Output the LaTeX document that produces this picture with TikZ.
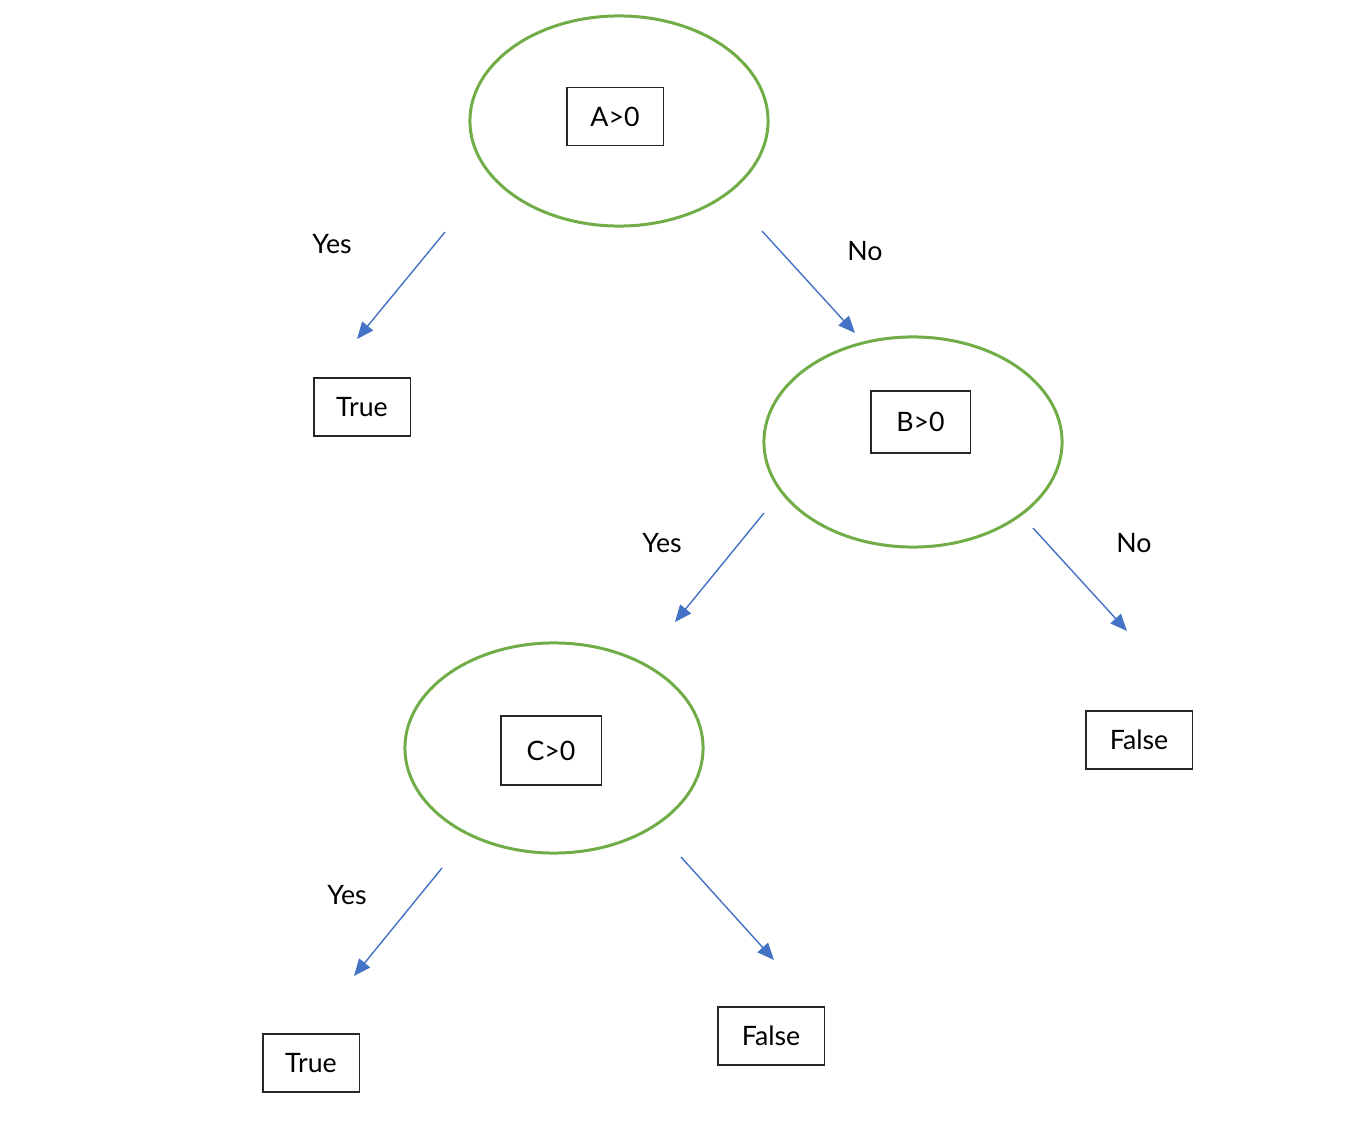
\documentclass[tikz,border=0pt]{standalone}
\usepackage{fontspec}
\setmainfont{Lato}
\usetikzlibrary{arrows.meta}
\usetikzlibrary{positioning}
\usetikzlibrary{shapes.geometric}
\definecolor{splitgreen}{RGB}{112,173,71}
\definecolor{edgeblue}{RGB}{68,114,196}
\tikzset{split/.style = {draw = splitgreen, line width = 0.85pt, ellipse, inner sep = 0,
                         minimum width = 2.98cm, minimum height = 2.10cm}}
\tikzset{cond/.style = {draw = black!85, line width = 0.3pt, inner sep = 0,
                        minimum width = 0.96cm, minimum height = 0.58cm}}
\tikzset{branch/.style = {draw = edgeblue, line width = 0.4pt,
                          -{Triangle[length = 4.8pt, width = 4pt]}}}
\tikzset{answer/.style = {inner sep = 0}}

\begin{document}
\begin{tikzpicture}[x = 0.01cm, y = -0.01cm, font = \fontsize{7.6}{9}\selectfont]
    \useasboundingbox (0, 0) rectangle (1354, 1140);

    % splits
    \node (splitA) at (619, 121) [split] {};
    \node (splitB) at (913, 442) [split] {};
    \node (splitC) at (554, 748) [split] {};

    \node (testA) at (615, 116.5) [cond] {A>0};
    \node (testB) at (920.5, 422) [cond, minimum width = 0.99cm, minimum height = 0.62cm] {B>0};
    \node (testC) at (551, 750.5) [cond, minimum width = 1.00cm, minimum height = 0.69cm] {C>0};

    % leaves
    \node (trueA) at (362, 407) [cond] {True};
    \node (falseB) at (1139, 740) [cond, minimum width = 1.06cm] {False};
    \node (trueC) at (311, 1063) [cond] {True};
    \node (falseC) at (771, 1036) [cond, minimum width = 1.06cm] {False};

    % branch ends
    \coordinate (yesA) at (445, 232);
    \coordinate (yesAend) at (357, 339);
    \coordinate (noA) at (762, 231);
    \coordinate (noAend) at (855, 333);
    \coordinate (yesB) at (764, 513);
    \coordinate (yesBend) at (675, 622);
    \coordinate (noB) at (1033, 528);
    \coordinate (noBend) at (1127, 631);
    \coordinate (yesC) at (442, 868);
    \coordinate (yesCend) at (354, 976);
    \coordinate (noC) at (681, 857);
    \coordinate (noCend) at (774, 960);

    \draw [branch] (yesA) -- (yesAend);
    \draw [branch] (noA) -- (noAend);
    \draw [branch] (yesB) -- (yesBend);
    \draw [branch] (noB) -- (noBend);
    \draw [branch] (yesC) -- (yesCend);
    \draw [branch] (noC) -- (noCend);

    \node (lblYesA) at (332, 244) [answer] {Yes};
    \node (lblNoA) at (865, 251) [answer] {No};
    \node (lblYesB) at (662, 543) [answer] {Yes};
    \node (lblNoB) at (1134, 543) [answer] {No};
    \node (lblYesC) at (347, 895) [answer] {Yes};
\end{tikzpicture}
\end{document}
